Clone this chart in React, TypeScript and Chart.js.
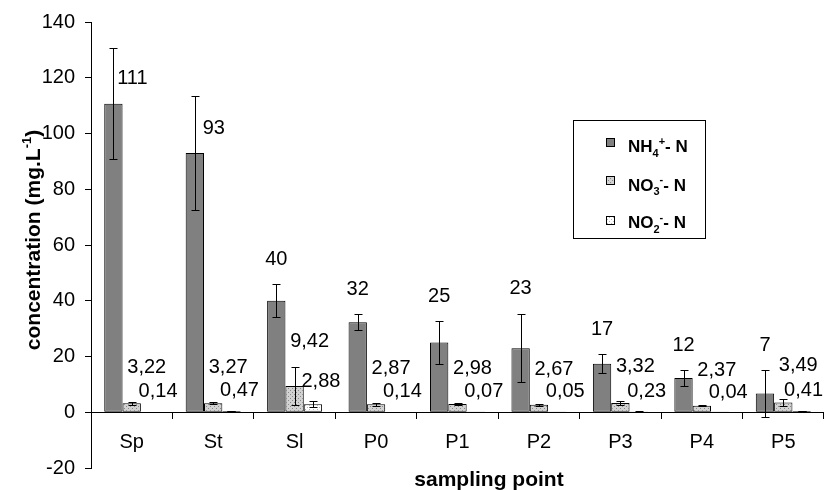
import React, { useEffect, useRef } from 'react';
import { Chart, registerables } from 'chart.js';

Chart.register(...registerables);

const FONT = '"Liberation Sans", Arial, sans-serif';

const categories = ['Sp', 'St', 'Sl', 'P0', 'P1', 'P2', 'P3', 'P4', 'P5'];
const nh4Values = [110.7, 93, 40, 32.3, 25, 23, 17.4, 12.3, 6.7];
const nh4Errors = [20, 20.5, 6, 2.9, 7.7, 12.3, 3.4, 2.8, 8.3];
const no3Values = [3.22, 3.27, 9.42, 2.87, 2.98, 2.67, 3.32, 2.37, 3.49];
const no3Errors = [0.5, 0.3, 6.7, 0.5, 0.5, 0.3, 0.8, 0.3, 1.3];
const no2Values = [0.14, 0.47, 2.88, 0.14, 0.07, 0.05, 0.23, 0.04, 0.41];
const no2Errors = [0.1, 0.15, 1.0, 0.1, 0.05, 0.05, 0.1, 0.05, 0.1];
const yMin = -20;
const yMax = 140;
const yStep = 20;

type Seg = { t: string; k: 'n' | 'sub' | 'sup' };
const nh4Legend: Seg[] = [{ t: 'NH', k: 'n' }, { t: '4', k: 'sub' }, { t: '+', k: 'sup' }, { t: '- N', k: 'n' }];
const no3Legend: Seg[] = [{ t: 'NO', k: 'n' }, { t: '3', k: 'sub' }, { t: '-', k: 'sup' }, { t: '- N', k: 'n' }];
const no2Legend: Seg[] = [{ t: 'NO', k: 'n' }, { t: '2', k: 'sub' }, { t: '-', k: 'sup' }, { t: '- N', k: 'n' }];
const yTitle: Seg[] = [{ t: 'concentration (mg.L', k: 'n' }, { t: '-1', k: 'sup' }, { t: ')', k: 'n' }];
const xTitle = 'sampling point';

function makePattern(bg: string, dot: string, dots: [number, number][]) {
  const c = document.createElement('canvas');
  c.width = 4;
  c.height = 4;
  const g = c.getContext('2d')!;
  g.fillStyle = bg;
  g.fillRect(0, 0, 4, 4);
  g.fillStyle = dot;
  dots.forEach(([x, y]) => g.fillRect(x, y, 1, 1));
  return g.createPattern(c, 'repeat')!;
}

function segWidth(ctx: CanvasRenderingContext2D, segs: Seg[], size: number, small: number) {
  let w = 0;
  segs.forEach((s) => {
    ctx.font = `bold ${s.k === 'n' ? size : small}px ${FONT}`;
    w += ctx.measureText(s.t).width;
  });
  return w;
}

function drawSegs(ctx: CanvasRenderingContext2D, segs: Seg[], x: number, y: number, size: number, small: number) {
  let cx = x;
  segs.forEach((s) => {
    const sz = s.k === 'n' ? size : small;
    ctx.font = `bold ${sz}px ${FONT}`;
    const dy = s.k === 'sub' ? size * 0.28 : s.k === 'sup' ? -size * 0.42 : 0;
    ctx.fillText(s.t, cx, y + dy);
    cx += ctx.measureText(s.t).width;
  });
}

const errorBarPlugin = {
  id: 'errorBars',
  afterDatasetsDraw(chart: any) {
    const ctx = chart.ctx as CanvasRenderingContext2D;
    const ys = chart.scales.y;
    ctx.save();
    ctx.strokeStyle = '#000';
    ctx.lineWidth = 1;
    chart.data.datasets.forEach((ds: any, di: number) => {
      const meta = chart.getDatasetMeta(di);
      meta.data.forEach((bar: any, i: number) => {
        const v = ds.data[i];
        const e = ds.errors[i];
        const x = Math.round(bar.x) + 0.5;
        const yt = Math.round(ys.getPixelForValue(v + e)) + 0.5;
        const yb = Math.round(ys.getPixelForValue(v - e)) + 0.5;
        ctx.beginPath();
        ctx.moveTo(x, yt);
        ctx.lineTo(x, yb);
        ctx.moveTo(x - 4, yt);
        ctx.lineTo(x + 4, yt);
        ctx.moveTo(x - 4, yb);
        ctx.lineTo(x + 4, yb);
        ctx.stroke();
      });
    });
    ctx.restore();
  },
};

const labelPlugin = {
  id: 'valueLabels',
  afterDatasetsDraw(chart: any) {
    const ctx = chart.ctx as CanvasRenderingContext2D;
    const ys = chart.scales.y;
    ctx.save();
    ctx.fillStyle = '#000';
    ctx.font = `20px ${FONT}`;
    ctx.textAlign = 'center';
    ctx.textBaseline = 'middle';
    chart.data.datasets.forEach((ds: any, di: number) => {
      const meta = chart.getDatasetMeta(di);
      meta.data.forEach((bar: any, i: number) => {
        const v = ds.data[i];
        const e = ds.errors[i];
        const text = v.toFixed(ds.decimals).replace('.', ',');
        let x = bar.x;
        let y = 0;
        if (di === 0) {
          if (e > 15) {
            x = bar.x + 19;
            y = ys.getPixelForValue(v) - 25;
          } else {
            y = ys.getPixelForValue(v + e) - 25;
          }
        } else if (di === 1) {
          x = bar.x + 15;
          y = (ys.getPixelForValue(v) + ys.getPixelForValue(v + e)) / 2 - 35;
        } else {
          x = bar.x + 8;
          y = ys.getPixelForValue(v + e) - 20;
        }
        const w = ctx.measureText(text).width;
        x = Math.min(x, chart.width - w / 2 - 1);
        ctx.fillText(text, x, y);
      });
    });
    ctx.restore();
  },
};

const decorPlugin = {
  id: 'decor',
  afterDraw(chart: any) {
    const ctx = chart.ctx as CanvasRenderingContext2D;
    ctx.save();
    ctx.fillStyle = '#000';
    ctx.textAlign = 'left';
    ctx.textBaseline = 'alphabetic';

    // y title
    const tw = segWidth(ctx, yTitle, 21, 13);
    ctx.save();
    ctx.translate(39.5, 240);
    ctx.rotate(-Math.PI / 2);
    drawSegs(ctx, yTitle, -tw / 2, 0, 21, 13);
    ctx.restore();

    // x title
    ctx.font = `bold 21px ${FONT}`;
    ctx.textAlign = 'center';
    ctx.fillText(xTitle, 489, 486);
    ctx.textAlign = 'left';

    // legend
    ctx.fillStyle = '#fff';
    ctx.fillRect(573.5, 120.5, 132, 118);
    ctx.strokeStyle = '#000';
    ctx.lineWidth = 1;
    ctx.strokeRect(573.5, 120.5, 132, 118);
    const rows: [Seg[], number, number][] = [
      [nh4Legend, 142, 152],
      [no3Legend, 180, 190.5],
      [no2Legend, 220.5, 228],
    ];
    rows.forEach(([segs, my, by], i) => {
      const ds = chart.data.datasets[i];
      ctx.fillStyle = ds.backgroundColor;
      ctx.fillRect(606.5, Math.round(my - 4.5) + 0.5, 8, 8);
      ctx.strokeRect(606.5, Math.round(my - 4.5) + 0.5, 8, 8);
      ctx.fillStyle = '#000';
      drawSegs(ctx, segs, 628, by, 17, 11);
    });
    ctx.restore();
  },
};

export default function App() {
  const ref = useRef<HTMLCanvasElement>(null);
  useEffect(() => {
    document.body.style.margin = '0';
    const no3Pattern = makePattern('#d2d2d2', '#8a8a8a', [[0, 0], [2, 2]]);
    const no2Pattern = makePattern('#ffffff', '#b4b4b4', [[1, 1], [3, 3]]);
    const common = { borderColor: '#000', borderWidth: 1, borderSkipped: false, barPercentage: 1, categoryPercentage: 0.675 };
    const chart = new Chart(ref.current!, {
      type: 'bar',
      data: {
        labels: categories,
        datasets: [
          { label: 'NH4+- N', data: nh4Values, errors: nh4Errors, decimals: 0, backgroundColor: '#808080', ...common } as any,
          { label: 'NO3-- N', data: no3Values, errors: no3Errors, decimals: 2, backgroundColor: no3Pattern, ...common } as any,
          { label: 'NO2-- N', data: no2Values, errors: no2Errors, decimals: 2, backgroundColor: no2Pattern, ...common } as any,
        ],
      },
      options: {
        responsive: false,
        animation: false,
        devicePixelRatio: 1,
        layout: { padding: { top: 20, bottom: 21, left: 0, right: -2 } },
        plugins: { legend: { display: false }, tooltip: { enabled: false }, title: { display: false } },
        scales: {
          x: {
            type: 'category',
            position: { y: 0 } as any,
            offset: true,
            grid: { display: true, drawOnChartArea: false, drawTicks: true, tickLength: 6, color: '#000', offset: true },
            border: { display: true, color: '#000', width: 1 },
            ticks: { color: '#000', font: { family: FONT, size: 20 }, padding: 12, maxRotation: 0, autoSkip: false },
          },
          y: {
            min: yMin,
            max: yMax,
            ticks: { stepSize: yStep, color: '#000', font: { family: FONT, size: 20 }, padding: 10 },
            grid: { drawOnChartArea: false, drawTicks: true, tickLength: 6, color: '#000' },
            border: { display: true, color: '#000', width: 1 },
            afterFit(scale: any) {
              scale.width = 91;
            },
          },
        },
      } as any,
      plugins: [errorBarPlugin, labelPlugin, decorPlugin],
    });
    return () => chart.destroy();
  }, []);
  return (
    <div style={{ width: 824, height: 490 }}>
      <canvas ref={ref} width={824} height={490} style={{ display: 'block' }} />
    </div>
  );
}
